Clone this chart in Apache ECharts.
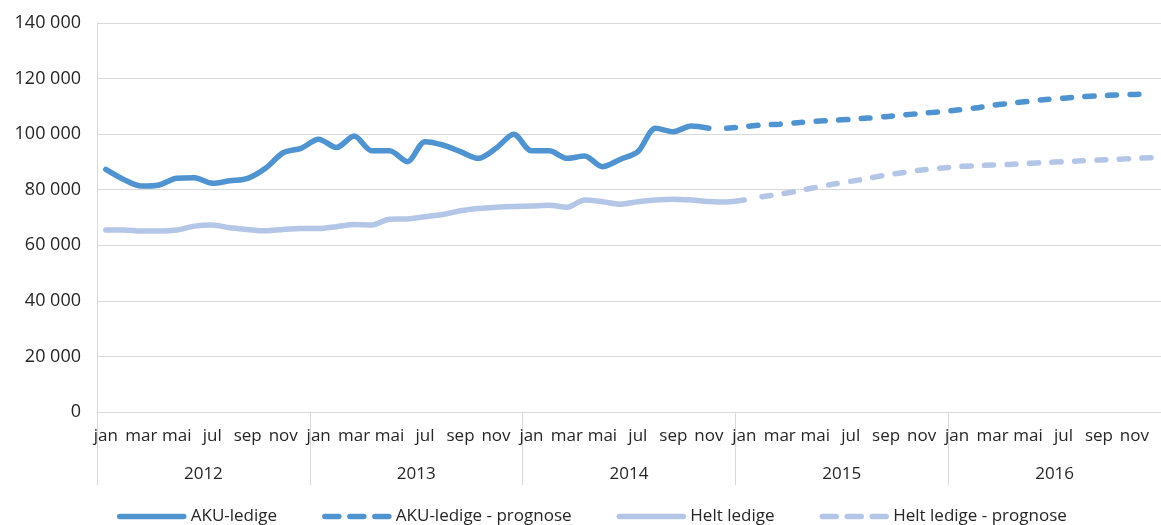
<!DOCTYPE html>
<html>
<head>
<meta charset="utf-8">
<script src="https://cdn.jsdelivr.net/npm/echarts@6/dist/echarts.min.js"></script>
<style>
  html, body { margin: 0; padding: 0; background: #fff; }
  #chart { width: 1161px; height: 525px; }
</style>
</head>
<body>
<div id="chart"></div>
<script>
// måneder og år
var years = ['2012', '2013', '2014', '2015', '2016'];
var monthNames = ['jan', 'feb', 'mar', 'apr', 'mai', 'jun', 'jul', 'aug', 'sep', 'okt', 'nov', 'des'];

// AKU-ledige, jan 2012 - nov 2014
var akuLedige = [
    87300, 83700, 81300, 81700, 84100, 84300, 82300, 83200, 84100, 87700, 93300, 94900,
    98200, 95200, 99300, 94000, 94000, 90100, 97300, 96100, 93700, 91300, 94900, 100000,
    94000, 94000, 91300, 92100, 88300, 90900, 93700, 102100, 100900, 102900, 102100
];
// AKU-ledige prognose, des 2014 - des 2016
var akuPrognose = [
    102100,
    102700, 103300, 103600, 104100, 104600, 105000, 105300, 105800, 106300, 106900, 107500, 108000,
    108700, 109400, 110400, 111100, 111800, 112500, 112900, 113500, 113800, 114100, 114300, 114400
];
// Helt ledige, jan 2012 - jan 2015
var heltLedige = [
    65500, 65500, 65100, 65100, 65500, 66900, 67300, 66300, 65700, 65200, 65700, 66000,
    66000, 66700, 67500, 67300, 69400, 69500, 70300, 71100, 72400, 73200, 73700, 74000,
    74100, 74400, 73700, 76300, 75700, 74800, 75700, 76300, 76600, 76300, 75800, 75600,
    76300
];
// Helt ledige prognose, feb 2015 - des 2016
var heltPrognose = [
    77500, 78400, 79500, 80800, 82000, 83000, 84100, 85300, 86200, 87100, 87700,
    88300, 88600, 88900, 89100, 89500, 89800, 90100, 90400, 90700, 90900, 91300, 91500
];

var months = [];
for (var y = 0; y < years.length; y++) {
    for (var m = 0; m < 12; m++) {
        months.push(monthNames[m] + ' ' + years[y]);
    }
}

// legg prognosene på riktig plass i tidsaksen
function padStart(arr, total) {
    var out = [];
    for (var i = 0; i < total - arr.length; i++) out.push(null);
    return out.concat(arr);
}

var dark = '#4f94d0';
var light = '#b4c6e7';
var gridColor = '#d9d9d9';
var font = '"Open Sans", sans-serif';

var myChart = echarts.init(document.getElementById('chart'));

var option = {
    animation: false,
    textStyle: { fontFamily: font },
    grid: { left: 97, top: 23, width: 1070, bottom: 113 },
    legend: {
        left: 112,
        top: 503,
        itemWidth: 64,
        itemHeight: 14,
        itemGap: 45,
        itemStyle: { opacity: 0 },
        lineStyle: { width: 5.5, cap: 'round' },
        textStyle: { fontSize: 17, color: '#262626', fontFamily: font, padding: [0, 0, 0, 2] },
        data: [
            { name: 'AKU-ledige' },
            { name: 'AKU-ledige - prognose', lineStyle: { type: [14, 11], cap: 'round' } },
            { name: 'Helt ledige' },
            { name: 'Helt ledige - prognose', lineStyle: { type: [14, 11], cap: 'round' } }
        ]
    },
    xAxis: [{
        type: 'category',
        data: months,
        boundaryGap: true,
        axisLine: { lineStyle: { color: gridColor } },
        axisTick: { show: false },
        axisLabel: {
            interval: 1,
            margin: 16,
            fontSize: 17,
            color: '#262626',
            formatter: function(v) { return v.split(' ')[0]; }
        }
    }, {
        type: 'category',
        data: years,
        position: 'bottom',
        boundaryGap: true,
        axisLine: { show: false },
        axisTick: { show: true, interval: 0, length: 73, lineStyle: { color: gridColor } },
        axisLabel: { margin: 54, fontSize: 17, color: '#262626' }
    }],
    yAxis: {
        type: 'value',
        min: 0,
        max: 140000,
        interval: 20000,
        axisLine: { show: true, lineStyle: { color: gridColor } },
        splitLine: { lineStyle: { color: gridColor } },
        axisLabel: {
            margin: 16,
            fontSize: 18,
            color: '#262626',
            formatter: function(v) { return String(v).replace(/\B(?=(\d{3})+(?!\d))/g, ' '); }
        }
    },
    series: [{
        name: 'AKU-ledige',
        type: 'line',
        smooth: 0.3,
        symbol: 'none',
        z: 4,
        lineStyle: { color: dark, width: 5.5, cap: 'round' },
        itemStyle: { color: dark },
        data: akuLedige
    }, {
        name: 'AKU-ledige - prognose',
        type: 'line',
        smooth: 0.3,
        symbol: 'none',
        z: 4,
        lineStyle: { color: dark, width: 5.5, type: [9, 13.5], cap: 'round' },
        itemStyle: { color: dark },
        data: padStart(akuPrognose, months.length)
    }, {
        name: 'Helt ledige',
        type: 'line',
        smooth: 0.3,
        symbol: 'none',
        z: 3,
        lineStyle: { color: light, width: 5.5, cap: 'round' },
        itemStyle: { color: light },
        data: heltLedige
    }, {
        name: 'Helt ledige - prognose',
        type: 'line',
        smooth: 0.3,
        symbol: 'none',
        z: 3,
        lineStyle: { color: light, width: 5.5, type: [9, 13.5], cap: 'round' },
        itemStyle: { color: light },
        data: padStart(heltPrognose, months.length)
    }]
};

myChart.setOption(option);
</script>
</body>
</html>
